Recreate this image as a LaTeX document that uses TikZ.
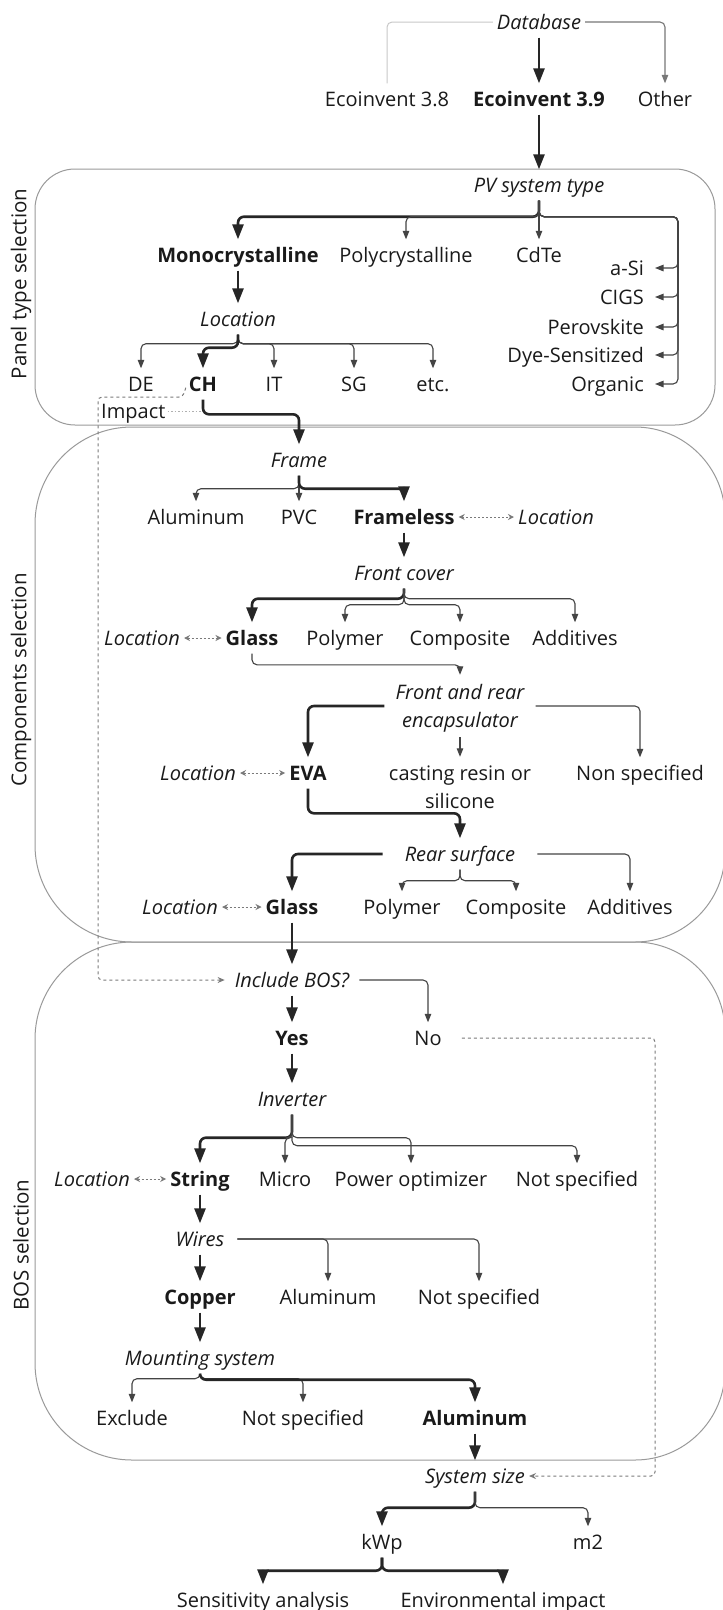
\documentclass[tikz,border=0pt]{standalone}
\usepackage{fontspec}
\setmainfont{Open Sans}
\usetikzlibrary{arrows.meta,calc}
\definecolor{ink}{HTML}{1A1A1A}
\definecolor{heavyc}{HTML}{262626}
\definecolor{lightc}{HTML}{444444}
\definecolor{midc}{HTML}{777777}
\definecolor{panelc}{HTML}{9A9A9A}
\definecolor{dashc}{HTML}{7A7A7A}
\definecolor{faintc}{HTML}{C8C8C8}
\definecolor{dotc}{HTML}{B0B0B0}
\newcommand\rpanel[6]{\draw[panel] ({#1+#5},#2) -- ({#3-#6},#2) .. controls ({#3-0.448*#6},#2) and (#3,{#2+0.448*#6}) .. (#3,{#2+#6}) -- (#3,{#4-#6}) .. controls (#3,{#4-0.448*#6}) and ({#3-0.448*#6},#4) .. ({#3-#6},#4) -- ({#1+#5},#4) .. controls ({#1+0.448*#5},#4) and (#1,{#4-0.448*#5}) .. (#1,{#4-#5}) -- (#1,{#2+#5}) .. controls (#1,{#2+0.448*#5}) and ({#1+0.448*#5},#2) .. cycle;}
\begin{document}
\begin{tikzpicture}[x=1pt,y=-1pt,
  txt/.style={text=ink, inner sep=0pt, inner xsep=4pt, minimum height=31pt, text height=14.2pt, text depth=0pt, font=\fontsize{20}{28}\selectfont},
  bd/.style={txt, font=\fontsize{20}{28}\selectfont\bfseries},
  itl/.style={txt, font=\fontsize{20}{28}\selectfont\itshape},
  sidelab/.style={text=ink, rotate=90, font=\fontsize{20.5}{24}\selectfont},
  thickarr/.style={draw=heavyc, line width=2.6pt, rounded corners=6pt, -{Triangle[length=15pt,width=11pt]}},
  thinarr/.style={draw=lightc, line width=1.1pt, rounded corners=5pt, -{Triangle[length=8.5pt,width=6.5pt]}},
  faint/.style={draw=faintc, line width=1pt, rounded corners=5pt},
  dbl/.style={draw=dashc, line width=1pt, dash pattern=on 2pt off 2pt, {Stealth[length=6pt,width=6pt]}-{Stealth[length=6pt,width=6pt]}},
  dsl/.style={draw=dashc, line width=1pt, dash pattern=on 3pt off 3pt, rounded corners=4pt},
  dotline/.style={draw=dotc, line width=1pt, dash pattern=on 1.5pt off 2pt},
  panel/.style={draw=panelc, line width=1pt}]
\useasboundingbox (0,0) rectangle (723,1610);
\fill[white] (0,0) rectangle (723,1610);

% panels
\draw[panel, rounded corners=40pt] (35,169) rectangle (715,425);
\rpanel{35}{427}{725}{942}{97}{90}
\rpanel{35}{942}{725}{1460}{97}{90}

\node[sidelab] (s1) at (21,284) {Panel type selection};
\node[sidelab] (s2) at (21,680) {Components selection};
\node[sidelab] (s3) at (21,1245) {BOS selection};

% nodes
\node[itl] (db) at (539,22) {Database};
\node[txt] (e38) at (387,99) {Ecoinvent 3.8};
\node[bd] (e39) at (539,99) {Ecoinvent 3.9};
\node[txt] (oth) at (665,99) {Other};
\node[itl] (pv) at (539,185) {PV system type};
\node[bd] (mono) at (238,255) {Monocrystalline};
\node[txt] (poly) at (406,255) {Polycrystalline};
\node[txt] (cdte) at (539,255) {CdTe};
\node[txt, anchor=east, inner xsep=11pt] (asi) at (655,268) {a-Si};
\node[txt, anchor=east, inner xsep=11pt] (cigs) at (655,297) {CIGS};
\node[txt, anchor=east, inner xsep=11pt] (pero) at (655,327) {Perovskite};
\node[txt, anchor=east, inner xsep=11pt] (dye) at (655,355) {Dye-Sensitized};
\node[txt, anchor=east, inner xsep=11pt] (org) at (655,384) {Organic};
\node[itl] (loc1) at (238,319) {Location};
\node[txt] (de) at (141,384) {DE};
\node[bd] (ch) at (203,384) {CH};
\node[txt] (it) at (274,384) {IT};
\node[txt] (sg) at (354,384) {SG};
\node[txt] (etc) at (433,384) {etc.};
\node[txt, anchor=west, inner xsep=2pt] (impact) at (99,411) {Impact};
\node[itl] (frame) at (299,460) {Frame};
\node[txt] (alu1) at (196,517) {Aluminum};
\node[txt] (pvc) at (299,517) {PVC};
\node[bd] (fless) at (404,517) {Frameless};
\node[itl] (loc2) at (556,517) {Location};
\node[itl] (front) at (404,573) {Front cover};
\node[itl] (loc3) at (142,638) {Location};
\node[bd] (glass1) at (252,638) {Glass};
\node[txt] (poly1) at (345,638) {Polymer};
\node[txt] (comp1) at (460,638) {Composite};
\node[txt] (add1) at (575,638) {Additives};
\node[itl, text depth=28pt, minimum height=62pt, inner xsep=11pt] (enc) at (460,706) {\begin{tabular}[t]{@{}c@{}}Front and rear\\encapsulator\end{tabular}};
\node[itl] (loc4) at (198,773) {Location};
\node[bd] (eva) at (308,773) {EVA};
\node[txt, text depth=29pt, minimum height=61pt] (cast) at (460,787.5) {\begin{tabular}[t]{@{}c@{}}casting resin or\\silicone\end{tabular}};
\node[txt] (nons) at (640,773) {Non specified};
\node[itl, inner xsep=22pt] (rear) at (460,854) {Rear surface};
\node[itl] (loc5) at (180,907) {Location};
\node[bd] (glass2) at (292,907) {Glass};
\node[txt] (poly2) at (402,907) {Polymer};
\node[txt] (comp2) at (516,907) {Composite};
\node[txt] (add2) at (630,907) {Additives};
\node[itl, inner xsep=10pt] (bos) at (292,980) {Include BOS?};
\node[bd] (yes) at (292,1038) {Yes};
\node[txt] (no) at (428,1038) {No};
\node[itl] (inv) at (292,1099) {Inverter};
\node[itl] (loc6) at (92,1179) {Location};
\node[bd] (str) at (200,1179) {String};
\node[txt] (micro) at (285,1179) {Micro};
\node[txt] (power) at (411,1179) {Power optimizer};
\node[txt] (ns1) at (577,1179) {Not specified};
\node[itl, inner xsep=13pt] (wires) at (200,1239) {Wires};
\node[bd] (cu) at (200,1297) {Copper};
\node[txt] (alu2) at (328,1297) {Aluminum};
\node[txt] (ns2) at (479,1297) {Not specified};
\node[itl] (mount) at (200,1358) {Mounting system};
\node[txt] (excl) at (132,1418) {Exclude};
\node[txt] (ns3) at (303,1418) {Not specified};
\node[bd] (alu3) at (475,1418) {Aluminum};
\node[itl] (size) at (475,1476) {System size};
\node[txt] (kwp) at (382,1542) {kWp};
\node[txt] (m2) at (588,1542) {m2};
\node[txt] (sens) at (263,1600) {Sensitivity analysis};
\node[txt] (env) at (503,1600) {Environmental impact};

\coordinate (d1) at (183,397);
\coordinate (d2) at (98,397);
\coordinate (dx) at (655,0);

% connectors
\draw[faint] (db.west) -| (e38.north);
\draw[thinarr, draw=midc] (db.east) -| (oth.north);
\draw[thickarr] (db.south) -- (e39.north);
\draw[thickarr] (e39.south) -- (pv.north);

\draw[thickarr] (pv.south) -- ++(0,16) -| (mono.north);
\draw[thinarr] (pv.south) -- ++(0,16) -| (poly.north);
\draw[thinarr] (pv.south) -- (cdte.north);
\foreach \n in {asi,cigs,pero,dye,org}
  \draw[thinarr] (pv.south) -- ++(0,16) -| ([xshift=23pt]\n.east) -- (\n.east);

\draw[thickarr] (mono.south) -- (loc1.north);
\foreach \n in {de,it,sg,etc}
  \draw[thinarr] (loc1.south) -- ++(0,9) -| (\n.north);
\draw[thickarr] (loc1.south) -- ++(0,13) -| (ch.north);

\draw[dsl, -{Stealth[length=7pt,width=6pt]}] ([xshift=1pt,yshift=12pt]ch.south west) -- (d1) -- (d2) |- (bos.west);
\draw[dotline] (impact.east) -- (impact.east -| ch.south);
\draw[thickarr] (ch.south) |- ([yshift=30pt]frame.north) -- (frame.north);

\draw[thinarr] (frame.south) -- ++(0,13) -| (alu1.north);
\draw[thinarr] (frame.south) -- (pvc.north);
\draw[thickarr] (frame.south) -- ++(0,13) -| (fless.north);
\draw[dbl] (fless.east) -- (loc2.west);
\draw[thickarr] (fless.south) -- (front.north);

\draw[thickarr] (front.south) -- ++(0,10) -| (glass1.north);
\draw[thinarr] (front.south) -- ++(0,10) -| (add1.north);
\draw[thinarr] (front.south) -- ++(0,16) -| (poly1.north);
\draw[thinarr] (front.south) -- ++(0,16) -| (comp1.north);
\draw[dbl] (loc3.east) -- (glass1.west);

\draw[thinarr] (glass1.south) |- ([yshift=10pt]enc.north) -- (enc.north);
\draw[thickarr] (enc.west) -| (eva.north);
\draw[thinarr] (enc.east) -| (nons.north);
\draw[thinarr] (enc.south) -- (cast.north);
\draw[dbl] (loc4.east) -- (eva.west);

\draw[thickarr] (eva.south) |- ([yshift=25pt]rear.north) -- (rear.north);
\draw[thickarr] (rear.west) -| (glass2.north);
\draw[thinarr] (rear.east) -| (add2.north);
\draw[thinarr] (rear.south) -- ++(0,11) -| (poly2.north);
\draw[thinarr] (rear.south) -- ++(0,11) -| (comp2.north);
\draw[dbl] (loc5.east) -- (glass2.west);

\draw[thickarr] (glass2.south) -- (bos.north);
\draw[thickarr] (bos.south) -- (yes.north);
\draw[thinarr] (bos.east) -| (no.north);
\draw[dsl, -{Stealth[length=7pt,width=6pt]}] ([xshift=16pt]no.east) -| (dx |- size.east) -- (size.east);
\draw[thickarr] (yes.south) -- (inv.north);

\draw[thickarr] (inv.south) -- ++(0,23) -| (str.north);
\draw[thinarr] (inv.south) -- ++(0,23) -| (micro.north);
\draw[thinarr] (inv.south) -- ++(0,23) -| (power.north);
\draw[thinarr] (inv.south) -- ++(0,31) -| (ns1.north);
\draw[dbl] (loc6.east) -- (str.west);

\draw[thickarr] (str.south) -- (wires.north);
\draw[thickarr] (wires.south) -- (cu.north);
\draw[thinarr] (wires.east) -| (alu2.north);
\draw[thinarr] (wires.east) -| (ns2.north);
\draw[thickarr] (cu.south) -- (mount.north);

\draw[thinarr] (mount.south) -- ++(0,5) -| (excl.north);
\draw[thinarr] (mount.south) -- ++(0,5) -| (ns3.north);
\draw[thickarr] (mount.south) -- ++(0,6) -| (alu3.north);
\draw[thickarr] (alu3.south) -- (size.north);

\draw[thickarr] (size.south) -- ++(0,16) -| (kwp.north);
\draw[thinarr] (size.south) -- ++(0,16) -| (m2.north);
\draw[thickarr] (kwp.south) -- ++(0,13) -| (sens.north);
\draw[thickarr] (kwp.south) -- ++(0,13) -| (env.north);
\end{tikzpicture}
\end{document}
